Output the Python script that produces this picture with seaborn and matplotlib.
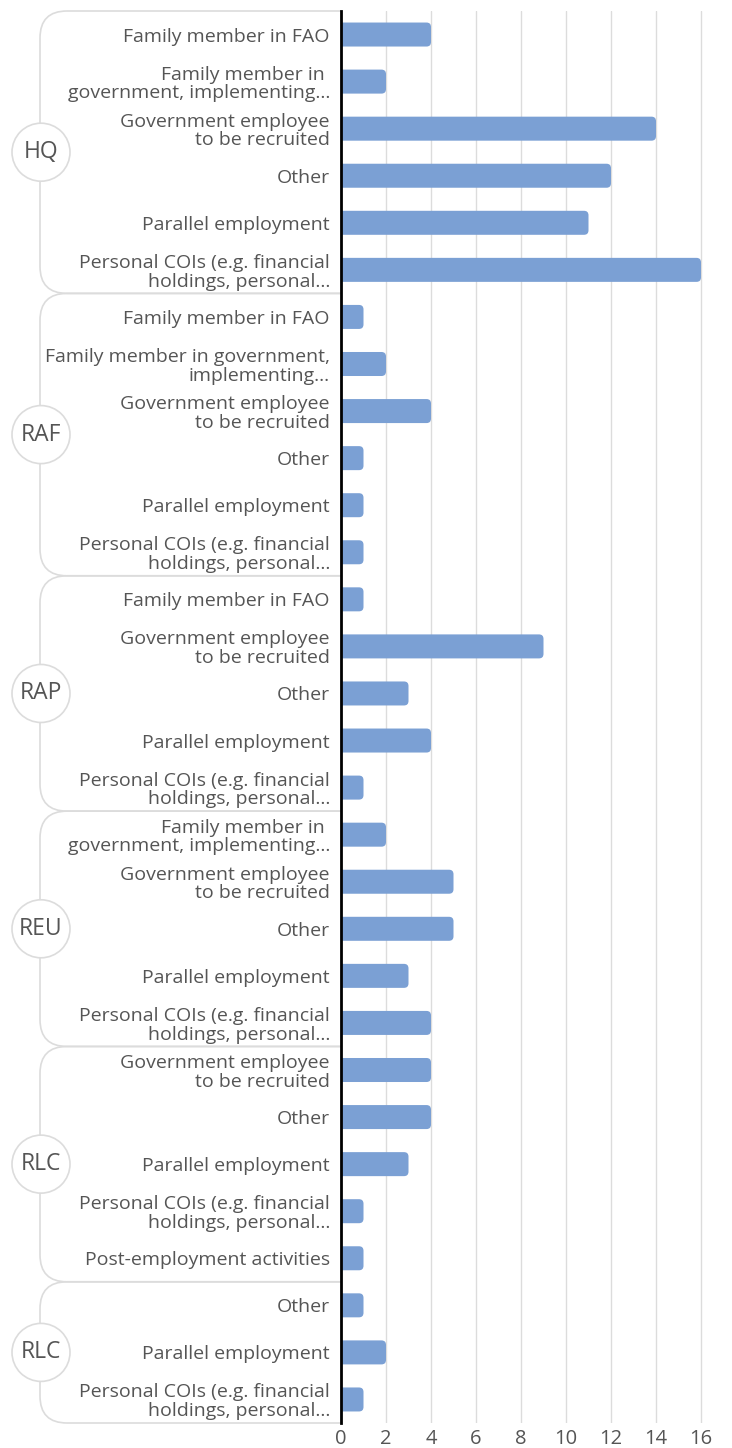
import numpy as np
import pandas as pd
import matplotlib
matplotlib.use("Agg")
import matplotlib.pyplot as plt
import seaborn as sns
from matplotlib.patches import FancyBboxPatch, Circle, Rectangle

# ---------------- data ----------------
group_names = ["HQ", "RAF", "RAP", "REU", "RLC", "RLC"]

hq_labels = ["Family member in FAO", "Family member in \ngovernment, implementing...",
             "Government employee\nto be recruited", "Other", "Parallel employment",
             "Personal COIs (e.g. financial\nholdings, personal..."]
hq_values = [4, 2, 14, 12, 11, 16]

raf_labels = ["Family member in FAO", "Family member in government,\nimplementing...",
              "Government employee\nto be recruited", "Other", "Parallel employment",
              "Personal COIs (e.g. financial\nholdings, personal..."]
raf_values = [1, 2, 4, 1, 1, 1]

rap_labels = ["Family member in FAO", "Government employee\nto be recruited", "Other",
              "Parallel employment", "Personal COIs (e.g. financial\nholdings, personal..."]
rap_values = [1, 9, 3, 4, 1]

reu_labels = ["Family member in \ngovernment, implementing...",
              "Government employee\nto be recruited", "Other", "Parallel employment",
              "Personal COIs (e.g. financial\nholdings, personal..."]
reu_values = [2, 5, 5, 3, 4]

rlc_labels = ["Government employee\nto be recruited", "Other", "Parallel employment",
              "Personal COIs (e.g. financial\nholdings, personal...", "Post-employment activities"]
rlc_values = [4, 4, 3, 1, 1]

rlc2_labels = ["Other", "Parallel employment", "Personal COIs (e.g. financial\nholdings, personal..."]
rlc2_values = [1, 2, 1]

x_ticks = [0, 2, 4, 6, 8, 10, 12, 14, 16]

group_labels = [hq_labels, raf_labels, rap_labels, reu_labels, rlc_labels, rlc2_labels]
group_values = [hq_values, raf_values, rap_values, reu_values, rlc_values, rlc2_values]

rows = []
for gi, (g, labs, vals) in enumerate(zip(group_names, group_labels, group_values)):
    for lab, v in zip(labs, vals):
        rows.append({"group": gi, "label": lab, "value": v})
df = pd.DataFrame(rows)
df["key"] = [str(i) for i in range(len(df))]

# ---------------- style ----------------
sns.set_style("white")
plt.rcParams["font.family"] = ["Open Sans", "DejaVu Sans"]
TXT = "#555555"
BAR = "#7ba0d4"
LINE = "#dcdcdc"

W, H = 732, 1448
fig = plt.figure(figsize=(W / 100, H / 100), dpi=100)
ov = fig.add_axes([0, 0, 1, 1], zorder=0)
ov.set_xlim(0, W)
ov.set_ylim(0, H)
ov.axis("off")

ax_left, ax_right, ax_top, ax_bottom = 341, 719, 11, 1423
ax = fig.add_axes([ax_left / W, (H - ax_bottom) / H, (ax_right - ax_left) / W,
                   (ax_bottom - ax_top) / H], zorder=1)
ax.set_facecolor("white")

sns.barplot(data=df, x="value", y="key", order=list(df["key"]), color=BAR,
            width=0.51, ax=ax, saturation=1, edgecolor="none", linewidth=0)

n = len(df)
ax.set_xlim(0, 16.8)
ax.set_ylim(n - 0.5, -0.5)
ax.set_xticks(x_ticks)
ax.set_xticklabels([str(t) for t in x_ticks], fontsize=14.5, color=TXT)
ax.set_yticks(range(n))
ax.set_yticklabels(list(df["label"]), fontsize=14, color=TXT, linespacing=1.05)
ax.tick_params(axis="both", length=0)
ax.tick_params(axis="y", pad=8)
ax.tick_params(axis="x", pad=4)
ax.set_xlabel("")
ax.set_ylabel("")
ax.grid(axis="x", color=LINE, linewidth=1)
ax.grid(axis="y", visible=False)
ax.set_axisbelow(True)
for s in ["top", "right", "bottom"]:
    ax.spines[s].set_visible(False)
ax.spines["left"].set_color("black")
ax.spines["left"].set_linewidth(2)
ax.spines["left"].set_zorder(5)

# rounded bars (right corners)
px_x = (ax_right - ax_left) / 16.8
px_y = (ax_bottom - ax_top) / n
r = 0.2
patches = list(ax.patches)
for p in patches:
    x0, y0, w, h = p.get_x(), p.get_y(), p.get_width(), p.get_height()
    p.remove()
    fb = FancyBboxPatch((x0 - 0.5, y0), w + 0.5, h,
                        boxstyle=f"round,pad=0,rounding_size={r}",
                        mutation_aspect=px_x / px_y, facecolor=BAR,
                        edgecolor="none", zorder=2)
    ax.add_patch(fb)

# group brackets and circles
counts = [len(l) for l in group_labels]
bounds = np.concatenate([[0], np.cumsum(counts)]) - 0.5
fig.canvas.draw()
def ypix(yd):
    return ax.transData.transform((0, yd))[1]

clip = Rectangle((0, 0), ax_left, H, transform=ov.transData)
for gi, g in enumerate(group_names):
    yt = ypix(bounds[gi])
    yb = ypix(bounds[gi + 1])
    box = FancyBboxPatch((40, yb), 360, yt - yb,
                         boxstyle="round,pad=0,rounding_size=27",
                         facecolor="none", edgecolor=LINE, linewidth=1.2)
    ov.add_patch(box)
    box.set_clip_path(clip)
    yc = (yt + yb) / 2
    ov.add_patch(Circle((41, yc), 29, facecolor="white", edgecolor=LINE, linewidth=1.2, zorder=3))
    ov.text(41, yc, g, ha="center", va="center", fontsize=16.5, color=TXT, zorder=4)

fig.savefig("out.png", dpi=100, facecolor="white")
